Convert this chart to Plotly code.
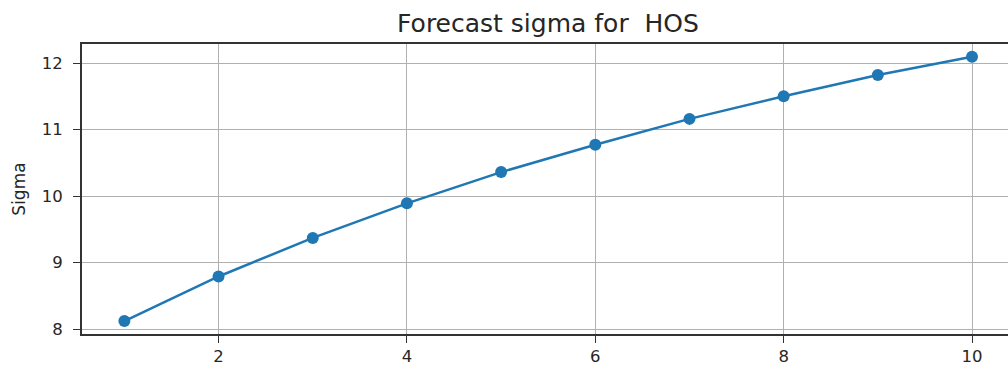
import plotly.graph_objects as go

# Forecast horizon (steps ahead) and the predicted sigma at each step
horizon = [1, 2, 3, 4, 5, 6, 7, 8, 9, 10]
sigma = [8.12, 8.79, 9.37, 9.89, 10.36, 10.77, 11.16, 11.50, 11.82, 12.095]

x_ticks = [2, 4, 6, 8, 10]
y_ticks = [8, 9, 10, 11, 12]

BLUE = "#1f77b4"
FONT = "DejaVu Sans"
TEXT = "#262626"

fig = go.Figure(
    go.Scatter(
        x=horizon,
        y=sigma,
        mode="lines+markers",
        line=dict(color=BLUE, width=2.5),
        marker=dict(color=BLUE, size=12),
        showlegend=False,
    )
)

fig.update_layout(
    width=1008,
    height=367,
    margin=dict(l=82, r=0, t=44, b=33),
    paper_bgcolor="white",
    plot_bgcolor="white",
    font=dict(family=FONT, size=16.5, color=TEXT),
    title=dict(
        text="Forecast sigma for  HOS",
        x=548 / 1008,
        xanchor="center",
        y=1 - 23 / 367,
        yanchor="middle",
        font=dict(family=FONT, size=25, color=TEXT),
    ),
)

fig.update_xaxes(
    range=[0.55, 10.382],
    tickvals=x_ticks,
    ticks="outside",
    ticklen=7,
    tickwidth=1.3,
    tickcolor="#333",
    ticklabelstandoff=-1,
    tickfont=dict(family=FONT, size=16.5, color=TEXT),
    showgrid=True,
    gridcolor="#b0b0b0",
    gridwidth=1.3,
    zeroline=False,
    showline=True,
    linecolor="#333",
    linewidth=2,
    mirror=True,
    automargin=False,
)

fig.update_yaxes(
    range=[7.925, 12.286],
    tickvals=y_ticks,
    ticks="outside",
    ticklen=7,
    tickwidth=1.3,
    tickcolor="#333",
    ticklabelstandoff=7,
    tickfont=dict(family=FONT, size=16.5, color=TEXT),
    showgrid=True,
    gridcolor="#b0b0b0",
    gridwidth=1.3,
    zeroline=False,
    showline=True,
    linecolor="#333",
    linewidth=2,
    automargin=False,
    title=dict(text="Sigma", standoff=12, font=dict(family=FONT, size=17, color=TEXT)),
)

fig.write_html("out.html")
